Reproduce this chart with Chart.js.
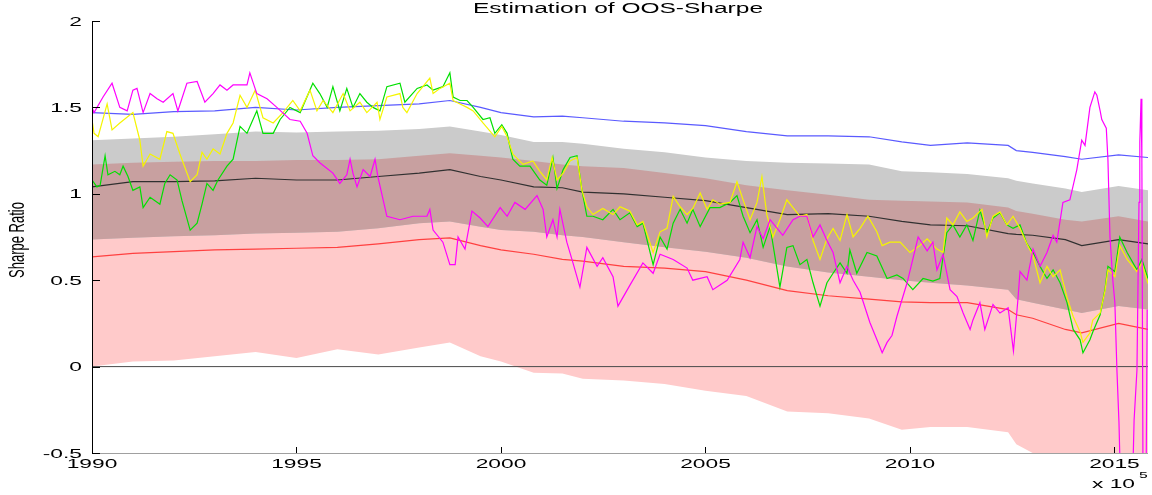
<!DOCTYPE html>
<html>
<head>
<meta charset="utf-8">
<script src="https://cdn.jsdelivr.net/npm/chart.js@4"></script>
<style>
  body { margin: 0; background: #fff; }
  #c { display: block; }
</style>
</head>
<body>
<canvas id="c" width="1152" height="495"></canvas>
<script>
// data
const xTicks = [1990, 1995, 2000, 2005, 2010, 2015];
const yTicks = [-0.5, 0, 0.5, 1, 1.5, 2];
const yTickLabels = ['-0.5', '0', '0.5', '1', '1.5', '2'];

const bandYears = [1990, 1991, 1992, 1993, 1994, 1995, 1996, 1997, 1998, 1998.75, 1999.5, 2000, 2000.8, 2001.5, 2002, 2003,
    2004, 2005, 2006, 2007, 2008, 2009, 2009.8, 2010.5, 2011.4, 2012.4, 2012.6, 2013, 2013.8, 2014.2, 2015.1, 2015.82];
const grayHigh = [1.31, 1.32, 1.33, 1.345, 1.36, 1.355, 1.36, 1.365, 1.375, 1.39, 1.36, 1.34, 1.30, 1.30, 1.29, 1.26,
    1.24, 1.21, 1.19, 1.18, 1.175, 1.17, 1.13, 1.125, 1.115, 1.09, 1.075, 1.06, 1.03, 1.01, 1.045, 1.02];
const grayLow = [0.735, 0.745, 0.755, 0.76, 0.77, 0.775, 0.78, 0.80, 0.83, 0.84, 0.81, 0.79, 0.78, 0.76, 0.75, 0.72,
    0.69, 0.665, 0.63, 0.58, 0.545, 0.52, 0.50, 0.485, 0.47, 0.445, 0.39, 0.37, 0.33, 0.31, 0.35, 0.33];
const pinkHigh = [1.17, 1.18, 1.185, 1.19, 1.19, 1.195, 1.195, 1.20, 1.22, 1.235, 1.22, 1.21, 1.19, 1.17, 1.16, 1.15,
    1.12, 1.09, 1.05, 1.02, 0.995, 0.965, 0.96, 0.955, 0.95, 0.92, 0.90, 0.885, 0.85, 0.84, 0.87, 0.84];
const pinkLow = [0.0, 0.03, 0.035, 0.06, 0.085, 0.05, 0.10, 0.07, 0.11, 0.14, 0.06, 0.03, -0.035, -0.04, -0.07, -0.08,
    -0.10, -0.14, -0.17, -0.26, -0.27, -0.30, -0.365, -0.35, -0.35, -0.38, -0.45, -0.50, -0.56, -0.60, -0.62, -0.65];
const blackLine = [1.04, 1.07, 1.07, 1.075, 1.09, 1.08, 1.08, 1.10, 1.12, 1.14, 1.10, 1.08, 1.04, 1.035, 1.01, 1.00,
    0.98, 0.96, 0.92, 0.88, 0.885, 0.87, 0.84, 0.82, 0.815, 0.77, 0.765, 0.76, 0.735, 0.70, 0.735, 0.71];
const redLine = [0.635, 0.655, 0.665, 0.675, 0.68, 0.685, 0.69, 0.71, 0.735, 0.745, 0.70, 0.675, 0.65, 0.62, 0.61, 0.58,
    0.57, 0.55, 0.50, 0.44, 0.41, 0.39, 0.375, 0.37, 0.37, 0.33, 0.30, 0.28, 0.215, 0.195, 0.25, 0.215];
const blueLine = [1.47, 1.46, 1.475, 1.48, 1.50, 1.485, 1.50, 1.51, 1.52, 1.54, 1.50, 1.47, 1.445, 1.45, 1.44, 1.42,
    1.41, 1.395, 1.36, 1.335, 1.335, 1.33, 1.30, 1.28, 1.295, 1.28, 1.25, 1.24, 1.215, 1.20, 1.225, 1.21];

const zeroYears = [1990, 2015.82];
const zeroLine = [0, 0];

const greenYears = [1990.00, 1990.12, 1990.20, 1990.32, 1990.39, 1990.56, 1990.68, 1990.76, 1990.88, 1991.00, 1991.17,
    1991.25, 1991.42, 1991.54, 1991.66, 1991.78, 1991.91, 1992.08, 1992.20, 1992.40, 1992.57, 1992.69, 1992.81, 1992.96,
    1993.08, 1993.30, 1993.45, 1993.62, 1993.79, 1994.03, 1994.18, 1994.43, 1994.60, 1994.84, 1995.09, 1995.40, 1995.57,
    1995.75, 1995.89, 1996.06, 1996.23, 1996.38, 1996.55, 1996.72, 1996.87, 1997.04, 1997.21, 1997.53, 1997.65, 1997.95,
    1998.19, 1998.34, 1998.58, 1998.75, 1998.83, 1999.00, 1999.17, 1999.32, 1999.56, 1999.73, 1999.85, 2000.02, 2000.15,
    2000.22, 2000.29, 2000.46, 2000.71, 2000.95, 2001.12, 2001.27, 2001.37, 2001.52, 2001.69, 2001.86, 2001.98, 2002.10,
    2002.25, 2002.49, 2002.74, 2002.91, 2003.15, 2003.33, 2003.47, 2003.72, 2003.89, 2004.06, 2004.21, 2004.38, 2004.55,
    2004.69, 2004.87, 2005.11, 2005.35, 2005.60, 2005.77, 2005.92, 2006.09, 2006.26, 2006.41, 2006.58, 2006.82, 2006.99,
    2007.14, 2007.31, 2007.48, 2007.63, 2007.80, 2007.97, 2008.12, 2008.29, 2008.46, 2008.53, 2008.70, 2008.95, 2009.19,
    2009.44, 2009.68, 2009.83, 2010.07, 2010.32, 2010.56, 2010.73, 2010.90, 2011.05, 2011.22, 2011.39, 2011.54, 2011.71,
    2011.88, 2012.03, 2012.20, 2012.37, 2012.52, 2012.69, 2012.86, 2013.01, 2013.18, 2013.35, 2013.50, 2013.67, 2013.84,
    2013.99, 2014.16, 2014.23, 2014.40, 2014.47, 2014.65, 2014.77, 2014.84, 2015.01, 2015.13, 2015.31, 2015.55, 2015.67,
    2015.82];
const greenLine = [1.08, 1.04, 1.05, 1.22, 1.11, 1.13, 1.11, 1.16, 1.10, 1.02, 1.04,
    0.92, 0.98, 0.96, 0.94, 1.06, 1.11, 1.08, 0.96, 0.79, 0.83, 0.94, 1.06, 1.02,
    1.08, 1.16, 1.20, 1.39, 1.35, 1.48, 1.35, 1.35, 1.43, 1.50, 1.47, 1.64, 1.58,
    1.50, 1.62, 1.48, 1.61, 1.50, 1.58, 1.53, 1.50, 1.48, 1.62, 1.64, 1.53, 1.61,
    1.63, 1.60, 1.62, 1.70, 1.56, 1.54, 1.54, 1.50, 1.43, 1.44, 1.35, 1.40, 1.35,
    1.27, 1.20, 1.16, 1.16, 1.08, 1.05, 1.21, 1.03, 1.14, 1.21, 1.22, 1.02, 0.87,
    0.87, 0.85, 0.91, 0.85, 0.89, 0.81, 0.83, 0.59, 0.75, 0.68, 0.83, 0.91, 0.83,
    0.91, 0.81, 0.92, 0.92, 0.95, 0.99, 0.87, 0.775, 0.85, 0.69, 0.81, 0.46, 0.69,
    0.70, 0.59, 0.62, 0.485, 0.35, 0.485, 0.54, 0.60, 0.54, 0.675, 0.54, 0.66, 0.64,
    0.51, 0.53, 0.51, 0.445, 0.51, 0.495, 0.51, 0.775, 0.82, 0.75, 0.82, 0.73, 0.905,
    0.775, 0.86, 0.89, 0.82, 0.80, 0.82, 0.71, 0.66, 0.58, 0.51, 0.56, 0.485, 0.37,
    0.215, 0.155, 0.08, 0.155, 0.20, 0.30, 0.45, 0.58, 0.55, 0.75, 0.66, 0.56, 0.62,
    0.51];

const yellowYears = [1990.00, 1990.05, 1990.15, 1990.37, 1990.49, 1990.68, 1991.00, 1991.17, 1991.25, 1991.42, 1991.66,
    1991.83, 1991.98, 1992.15, 1992.40, 1992.57, 1992.69, 1992.81, 1992.96, 1993.13, 1993.30, 1993.45, 1993.62, 1993.79,
    1993.99, 1994.18, 1994.43, 1994.67, 1994.91, 1995.09, 1995.33, 1995.50, 1995.65, 1995.89, 1996.14, 1996.31, 1996.55,
    1996.72, 1996.97, 1997.04, 1997.21, 1997.53, 1997.60, 1997.70, 1997.95, 1998.26, 1998.34, 1998.51, 1998.75, 1998.83,
    1999.00, 1999.17, 1999.32, 1999.56, 1999.85, 2000.02, 2000.15, 2000.29, 2000.54, 2000.78, 2000.95, 2001.12, 2001.25,
    2001.37, 2001.52, 2001.69, 2001.86, 2001.98, 2002.10, 2002.25, 2002.49, 2002.74, 2002.91, 2003.15, 2003.33, 2003.47,
    2003.72, 2003.89, 2004.06, 2004.21, 2004.38, 2004.55, 2004.69, 2004.87, 2005.04, 2005.18, 2005.35, 2005.60, 2005.77,
    2005.92, 2006.09, 2006.26, 2006.38, 2006.50, 2006.65, 2006.82, 2006.99, 2007.14, 2007.31, 2007.48, 2007.63, 2007.80,
    2007.97, 2008.12, 2008.29, 2008.46, 2008.61, 2008.78, 2008.97, 2009.19, 2009.32, 2009.51, 2009.76, 2010.00, 2010.24,
    2010.42, 2010.66, 2010.81, 2010.90, 2011.05, 2011.22, 2011.39, 2011.54, 2011.76, 2011.88, 2012.03, 2012.20, 2012.37,
    2012.52, 2012.69, 2012.86, 2013.01, 2013.18, 2013.35, 2013.50, 2013.67, 2013.84, 2013.99, 2014.16, 2014.23, 2014.40,
    2014.47, 2014.65, 2014.77, 2014.84, 2015.01, 2015.13, 2015.31, 2015.45, 2015.55, 2015.67, 2015.82];
const yellowLine = [1.43, 1.35, 1.33, 1.52, 1.37, 1.41, 1.47, 1.31, 1.16, 1.23, 1.20,
    1.36, 1.35, 1.23, 1.07, 1.11, 1.24, 1.20, 1.26, 1.23, 1.35, 1.41, 1.57, 1.50,
    1.60, 1.44, 1.41, 1.47, 1.54, 1.48, 1.60, 1.48, 1.54, 1.47, 1.58, 1.48, 1.53,
    1.47, 1.53, 1.43, 1.56, 1.58, 1.50, 1.47, 1.58, 1.67, 1.58, 1.61, 1.64, 1.54,
    1.52, 1.50, 1.48, 1.41, 1.33, 1.39, 1.33, 1.23, 1.17, 1.19, 1.13, 1.08, 1.21,
    1.08, 1.12, 1.19, 1.21, 1.02, 0.925, 0.88, 0.915, 0.88, 0.925, 0.90, 0.82, 0.84,
    0.66, 0.78, 0.80, 0.985, 0.925, 0.88, 0.915, 1.005, 0.91, 0.965, 0.94, 0.95, 1.07,
    0.965, 0.85, 0.95, 1.10, 0.88, 0.75, 0.85, 0.965, 0.92, 0.87, 0.88, 0.73, 0.62,
    0.74, 0.80, 0.73, 0.88, 0.75, 0.80, 0.87, 0.78, 0.70, 0.72, 0.72, 0.66, 0.70,
    0.74, 0.68, 0.66, 0.86, 0.82, 0.895, 0.84, 0.86, 0.91, 0.75, 0.87, 0.895, 0.82,
    0.87, 0.80, 0.71, 0.64, 0.485, 0.58, 0.52, 0.56, 0.40, 0.29, 0.20, 0.14, 0.195,
    0.27, 0.31, 0.44, 0.56, 0.52, 0.70, 0.62, 0.58, 0.55, 0.60, 0.48];

const magentaYears = [1990.00, 1990.05, 1990.27, 1990.49, 1990.68, 1990.86, 1991.00, 1991.10, 1991.25, 1991.42, 1991.59,
    1991.74, 1991.98, 1992.10, 1992.32, 1992.57, 1992.76, 1992.96, 1993.13, 1993.30, 1993.45, 1993.79, 1993.86, 1994.03,
    1994.28, 1994.52, 1994.84, 1995.09, 1995.26, 1995.40, 1995.57, 1995.89, 1996.06, 1996.23, 1996.31, 1996.38, 1996.48,
    1996.63, 1996.80, 1996.92, 1996.99, 1997.21, 1997.53, 1997.85, 1998.19, 1998.26, 1998.34, 1998.58, 1998.75, 1998.88,
    1998.95, 1999.12, 1999.29, 1999.49, 1999.68, 1999.98, 2000.15, 2000.34, 2000.59, 2000.88, 2001.03, 2001.12, 2001.27,
    2001.37, 2001.44, 2001.61, 2001.76, 2001.93, 2002.10, 2002.35, 2002.49, 2002.74, 2002.86, 2003.15, 2003.47, 2003.72,
    2003.89, 2004.21, 2004.55, 2004.69, 2005.04, 2005.18, 2005.53, 2005.84, 2005.92, 2006.09, 2006.26, 2006.41, 2006.58,
    2006.89, 2007.14, 2007.31, 2007.48, 2007.63, 2007.80, 2007.97, 2008.12, 2008.29, 2008.46, 2008.61, 2008.78, 2009.02,
    2009.27, 2009.32, 2009.44, 2009.56, 2009.68, 2009.93, 2010.20, 2010.42, 2010.56, 2010.66, 2010.81, 2010.98, 2011.15,
    2011.30, 2011.47, 2011.54, 2011.71, 2011.83, 2012.03, 2012.20, 2012.40, 2012.53, 2012.64, 2012.69, 2012.86, 2013.01,
    2013.18, 2013.35, 2013.50, 2013.59, 2013.74, 2013.91, 2014.08, 2014.20, 2014.28, 2014.40, 2014.52, 2014.57, 2014.65,
    2014.69, 2014.80, 2014.84, 2014.89, 2014.96, 2015.01, 2015.06, 2015.11, 2015.16, 2015.43, 2015.48, 2015.55, 2015.57,
    2015.60, 2015.62, 2015.65, 2015.67, 2015.70, 2015.77, 2015.80];
const magentaLine = [1.50, 1.47, 1.56, 1.64, 1.50, 1.48, 1.60, 1.61, 1.47, 1.58, 1.55,
    1.53, 1.58, 1.48, 1.64, 1.65, 1.53, 1.58, 1.63, 1.60, 1.63, 1.63, 1.70, 1.58,
    1.55, 1.50, 1.43, 1.42, 1.35, 1.22, 1.18, 1.12, 1.06, 1.11, 1.20, 1.12, 1.04,
    1.14, 1.10, 1.20, 1.10, 0.87, 0.85, 0.87, 0.87, 0.91, 0.79, 0.72, 0.59, 0.59,
    0.75, 0.68, 0.90, 0.86, 0.81, 0.92, 0.87, 0.95, 0.91, 0.99, 0.91, 0.75, 0.85,
    0.75, 0.91, 0.72, 0.60, 0.46, 0.69, 0.58, 0.63, 0.52, 0.35, 0.47, 0.60, 0.54,
    0.65, 0.62, 0.57, 0.50, 0.52, 0.445, 0.50, 0.62, 0.72, 0.63, 0.81, 0.74, 0.85,
    0.76, 0.85, 0.87, 0.87, 0.75, 0.82, 0.73, 0.66, 0.485, 0.58, 0.50, 0.43, 0.255,
    0.11, 0.08, 0.14, 0.18, 0.29, 0.485, 0.75, 0.67, 0.72, 0.56, 0.65, 0.445, 0.405,
    0.31, 0.215, 0.27, 0.37, 0.215, 0.36, 0.31, 0.34, 0.09, 0.39, 0.55, 0.50, 0.68,
    0.58, 0.66, 0.76, 0.72, 0.95, 0.965, 1.14, 1.31, 1.28, 1.50, 1.59, 1.57, 1.48,
    1.43, 1.38, 1.20, 0.75, 0.50, 0.37, -0.02, -0.32, -0.80, -0.80, -0.31, -0.02, 0.37,
    0.95, 1.30, 1.55, 1.20, -0.80, -0.80, 0.33];

const SX = 1.75; // the whole figure text looks stretched sideways
const FONT = '"Liberation Sans", Arial, sans-serif';

function pts(xs, ys) {
    return xs.map((x, i) => ({ x: x, y: ys[i] }));
}

function wideText(ctx, text, x, y, size, align, baseline) {
    ctx.save();
    ctx.font = size + 'px ' + FONT;
    ctx.textAlign = align;
    ctx.textBaseline = baseline;
    ctx.fillStyle = '#000';
    ctx.translate(x, y);
    ctx.scale(SX, 1);
    ctx.fillText(text, 0, 0);
    ctx.restore();
}

const matlabAxes = {
    id: 'matlabAxes',
    afterDraw(chart) {
        const ctx = chart.ctx;
        const xs = chart.scales.x;
        const ys = chart.scales.y;
        const a = chart.chartArea;

        ctx.save();
        // bottom axis (gray) and left axis (black)
        ctx.lineWidth = 1;
        ctx.strokeStyle = '#a0a0a0';
        ctx.beginPath();
        ctx.moveTo(a.left, a.bottom + 0.5);
        ctx.lineTo(a.right, a.bottom + 0.5);
        ctx.stroke();
        ctx.strokeStyle = '#000';
        ctx.beginPath();
        ctx.moveTo(a.left + 0.5, a.top);
        ctx.lineTo(a.left + 0.5, a.bottom);
        ctx.stroke();

        // tick marks
        ctx.strokeStyle = '#000';
        yTicks.forEach(v => {
            const py = Math.round(ys.getPixelForValue(v)) + 0.5;
            ctx.beginPath();
            ctx.moveTo(a.left, py);
            ctx.lineTo(a.left + 8, py);
            ctx.stroke();
        });
        xTicks.forEach(v => {
            const px = Math.round(xs.getPixelForValue(v)) + 0.5;
            ctx.beginPath();
            ctx.moveTo(px, a.bottom);
            ctx.lineTo(px, a.bottom - 6);
            ctx.stroke();
        });
        ctx.restore();

        // tick labels
        yTicks.forEach((v, i) => {
            wideText(ctx, yTickLabels[i], a.left - 10, ys.getPixelForValue(v) + 1, 13, 'right', 'middle');
        });
        xTicks.forEach(v => {
            wideText(ctx, String(v), xs.getPixelForValue(v), a.bottom + 15, 13, 'center', 'alphabetic');
        });

        // exponent note
        wideText(ctx, 'x 10', 1092, 488, 13, 'left', 'alphabetic');
        wideText(ctx, '5', 1139, 478, 9, 'left', 'alphabetic');

        // title
        wideText(ctx, 'Estimation of OOS-Sharpe', 618, 13, 14, 'center', 'alphabetic');

        // y axis title
        ctx.save();
        ctx.font = '13px ' + FONT;
        ctx.textAlign = 'center';
        ctx.textBaseline = 'middle';
        ctx.fillStyle = '#000';
        ctx.translate(18, 240);
        ctx.scale(SX, 1);
        ctx.rotate(-Math.PI / 2);
        ctx.fillText('Sharpe Ratio', 0, 0);
        ctx.restore();
    }
};

function band(data, color, target, order) {
    return {
        data: data,
        borderWidth: 0,
        pointRadius: 0,
        backgroundColor: color,
        fill: target,
        order: order
    };
}

function line(data, color, order, width) {
    return {
        data: data,
        borderColor: color,
        borderWidth: width || 1.2,
        pointRadius: 0,
        fill: false,
        order: order
    };
}

new Chart(document.getElementById('c'), {
    type: 'line',
    data: {
        datasets: [
            band(pts(bandYears, pinkHigh), '#ffcaca', 1, 30),
            band(pts(bandYears, pinkLow), 'rgba(0,0,0,0)', false, 30),
            band(pts(bandYears, grayHigh), '#cbcbcb', 3, 20),
            band(pts(bandYears, grayLow), 'rgba(0,0,0,0)', false, 20),
            band(pts(bandYears, pinkHigh), '#c8a0a0', 5, 10),
            band(pts(bandYears, grayLow), 'rgba(0,0,0,0)', false, 10),
            line(pts(zeroYears, zeroLine), '#4a4a4a', 9, 1),
            line(pts(bandYears, redLine), '#ff4040', 8),
            line(pts(bandYears, blackLine), '#303030', 7),
            line(pts(bandYears, blueLine), '#5a5aff', 6),
            line(pts(greenYears, greenLine), '#00e000', 5),
            line(pts(yellowYears, yellowLine), '#f5f500', 4),
            line(pts(magentaYears, magentaLine), '#ff00ff', 3)
        ]
    },
    options: {
        responsive: false,
        animation: false,
        devicePixelRatio: 1,
        layout: { padding: { left: 92, right: 4, top: 21, bottom: 42 } },
        elements: { line: { tension: 0 } },
        plugins: {
            legend: { display: false },
            tooltip: { enabled: false },
            title: { display: false }
        },
        scales: {
            x: { type: 'linear', min: 1990, max: 2015.82, display: false },
            y: { type: 'linear', min: -0.5, max: 2, display: false }
        }
    },
    plugins: [matlabAxes]
});
</script>
</body>
</html>
